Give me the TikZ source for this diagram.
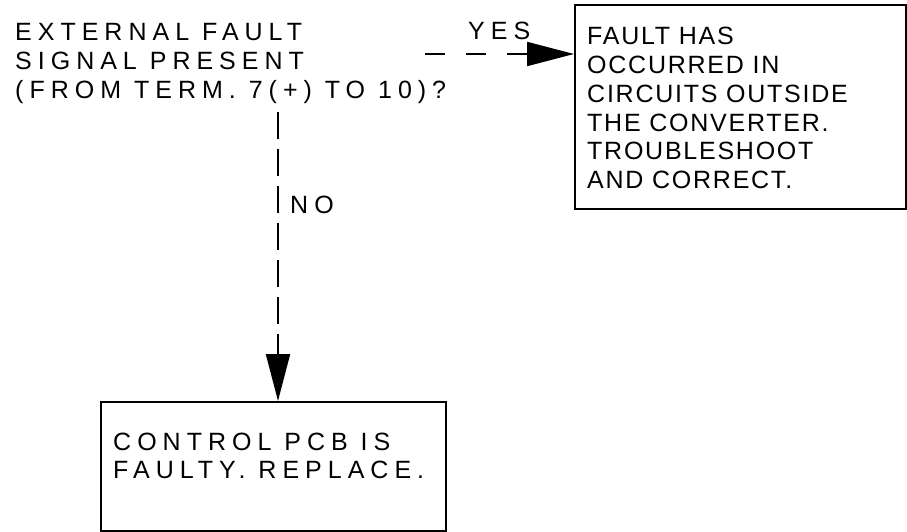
\documentclass[tikz,border=0pt]{standalone}
\usepackage{fontspec}
\usetikzlibrary{arrows.meta}
\newfontfamily\qfont[LetterSpace=24]{Liberation Sans}
\newfontfamily\bxfont[LetterSpace=7]{Liberation Sans}
\begin{document}
\begin{tikzpicture}[x=1pt,y=-1pt,
  qtext/.style={inner sep=0pt,anchor=base west,font=\fontsize{25}{28.7}\qfont},
  btext/.style={inner sep=0pt,anchor=base west,font=\fontsize{25}{28.7}\bxfont},
  framebox/.style={draw=black,line width=2pt,rectangle,inner sep=0pt,anchor=north west},
  flowline/.style={draw=black,line width=2pt,-{Triangle[length=47pt,width=24pt]}}]
\useasboundingbox[fill=white] (0,0) rectangle (907,532);
% question
\node[qtext] (question) at (15,41) {\begin{tabular}[t]{@{}l@{}}EXTERNAL FAULT\\SIGNAL PRESENT\\(FROM TERM. 7(+) TO 10)?\end{tabular}};
% right box
\node[framebox,minimum width=331pt,minimum height=204pt] (faultbox) at (574,4) {};
\node[btext] (faulttext) at (587,45) {\begin{tabular}[t]{@{}l@{}}FAULT HAS\\OCCURRED IN\\CIRCUITS OUTSIDE\\THE CONVERTER.\\TROUBLESHOOT\\AND CORRECT.\end{tabular}};
% bottom box
\node[framebox,minimum width=345pt,minimum height=129pt] (pcbbox) at (100,401) {};
\node[qtext] (pcbtext) at (113,450) {\begin{tabular}[t]{@{}l@{}}CONTROL PCB IS\\FAULTY. REPLACE.\end{tabular}};
% connectors
\coordinate (yesstart) at (425,54);
\coordinate (nostart) at (278,112);
\draw[flowline,dash pattern=on 20pt off 21pt] (yesstart) -- (faultbox.west |- yesstart);
\draw[flowline,dash pattern=on 27pt off 10pt] (nostart) -- (nostart |- pcbbox.north);
\node[qtext] (yeslabel) at (468,40) {YES};
\node[qtext] (nolabel) at (290,213) {NO};
\end{tikzpicture}
\end{document}
